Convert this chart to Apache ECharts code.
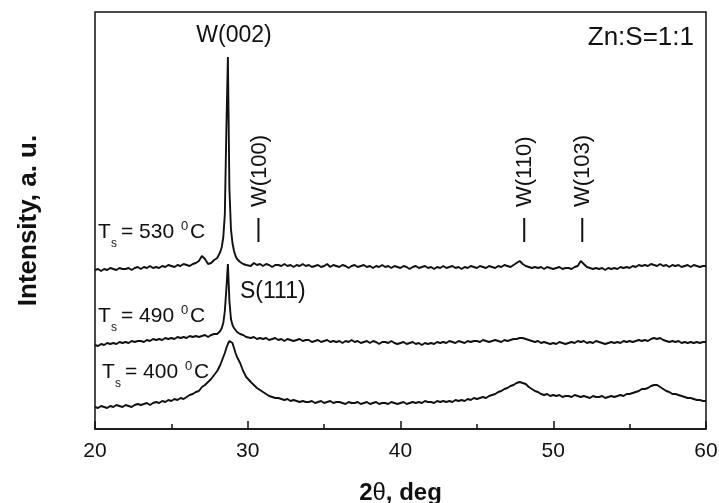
<!DOCTYPE html>
<html>
<head>
<meta charset="utf-8">
<script src="https://cdn.jsdelivr.net/npm/echarts@6/dist/echarts.min.js"></script>
<style>html,body{margin:0;padding:0;background:#fff}#c{width:719px;height:503px}</style>
</head>
<body>
<div id="c"></div>
<script>
// ---- 2θ sampling grid (deg): 0.2 deg steps, 0.1 deg steps through 28–30 deg ----
const twoTheta = [];
for (let d = 20; d < 60; d++) {
  const n = (d === 28 || d === 29) ? 10 : 5;
  for (let k = 0; k < n; k++) twoTheta.push(+(d + k / n).toFixed(2));
}
twoTheta.push(60);

// ---- Intensity (a.u., curves already vertically offset) ----
const ts530 = [
  159,160,158,160,159, 161,160,159,161,160, 160,161,159,161,162, 160,162,161,163,161,
  162,161,163,162,164, 163,162,164,163,165, 164,163,165,166,168, 173,170,165,166,169,
  171,173,177,182,192,215,300,372,240,200,
  186,178,173,170,168,167,166,165,166,164,
  165,163,166,164,165, 163,165,164,162,164, 164,163,165,163,164, 162,164,163,165,163,
  164,162,163,164,162, 163,165,162,164,163, 162,164,163,161,163, 164,162,163,164,162,
  163,161,163,162,164, 162,163,161,163,162, 161,163,162,160,162, 163,161,162,163,161,
  162,160,162,161,163, 161,162,163,161,162, 160,162,161,163,162, 161,163,162,161,163,
  162,161,163,162,164, 163,162,164,166,168, 165,163,162,161,162, 161,162,160,162,161,
  160,161,162,160,161, 161,160,162,163,168, 165,162,161,160,161, 160,161,159,161,160,
  161,160,162,161,162, 161,163,162,164,163, 164,163,165,164,163, 165,163,164,162,164,
  163,164,162,163,164, 162,164,163,162,163,
  163
];
const ts490 = [
  84,83,85,84,86, 85,86,85,87,86, 87,86,88,87,88, 88,87,89,88,90,
  89,90,89,91,90, 91,90,92,91,92, 91,93,92,93,92, 93,94,92,94,95,
  95,96,98,101,106,118,140,165,128,110,
  104,101,99,97,96,95,94,94,93,92,
  93,91,92,90,91, 90,91,89,90,91, 89,90,88,90,89, 88,89,90,88,89,
  89,87,88,89,87, 88,89,87,88,87, 88,86,88,87,89, 87,88,86,87,88,
  86,88,87,85,87, 87,86,88,86,85, 86,87,85,86,87, 85,86,84,86,85,
  86,85,87,86,87, 86,88,87,86,88, 87,86,88,87,88, 88,87,89,88,87,
  88,89,88,87,89, 88,89,90,90,91, 91,90,89,88,87, 88,86,87,86,85,
  86,85,87,86,85, 86,87,86,88,87, 88,86,87,86,88, 87,86,85,86,87,
  86,87,86,88,87, 88,87,88,89,88, 89,88,90,91,90, 91,89,88,87,88,
  87,88,86,87,86, 87,86,87,86,87,
  87
];
const ts400 = [
  22,21,23,22,21, 23,22,24,23,22, 24,23,22,24,25, 24,25,26,24,26,
  27,26,28,27,29, 28,30,29,31,30, 32,34,35,37,38, 42,44,47,50,54,
  58,61,64,68,72,76,81,85,88,89,
  86,81,76,72,69,66,62,58,55,52,
  50,47,44,41,39, 37,35,33,32,31, 31,30,29,30,28, 29,28,27,28,27,
  27,28,26,27,28, 26,27,28,26,27, 27,26,25,27,26, 26,27,25,26,27,
  25,26,27,25,26, 26,25,27,26,25, 26,27,25,26,27, 26,27,26,28,27,
  27,26,28,27,28, 27,28,27,29,28, 29,28,30,29,31, 30,31,32,31,33,
  34,35,37,38,40, 41,43,44,46,47, 46,45,42,40,38, 37,35,34,35,33,
  34,33,34,32,33, 33,32,34,33,32, 33,32,31,33,32, 32,33,31,32,33,
  32,33,34,33,35, 35,36,37,38,40, 40,41,43,44,44, 42,40,38,37,35,
  35,34,33,32,31, 31,30,29,29,28,
  28
];

// ---- reflection markers ----
const reflPos = [30.7, 48.1, 51.9];
const reflLabels = ['W(100)', 'W(110)', 'W(103)'];
const xTicks = [20, 30, 40, 50, 60];

const FONT = '"Liberation Sans", Arial, Helvetica, sans-serif';
const INK = '#111';

function pairs(ys) { return twoTheta.map((x, i) => [x, ys[i]]); }

function curve(name, ys) {
  return {
    name, type: 'line', data: pairs(ys), showSymbol: false, symbol: 'none',
    lineStyle: { color: INK, width: 1.9 }, animation: false, silent: true
  };
}

function tLabel(x0, yMid, temp) {
  const t = (text, dx, dy, size) => ({
    type: 'text', x: x0 + dx, y: yMid + dy,
    style: { text, font: size + 'px ' + FONT, fill: INK,
      textAlign: 'left', align: 'left', textVerticalAlign: 'middle', verticalAlign: 'middle' }
  });
  return { type: 'group', children: [
    t('T', 0, 0, 21), t('s', 13, 12, 12), t('= ' + temp, 23, 0, 21),
    t('0', 83, -6, 13), t('C', 92, 0, 21)
  ]};
}

const chart = echarts.init(document.getElementById('c'), null, { renderer: 'canvas' });
chart.setOption({
  animation: false,
  backgroundColor: '#fff',
  grid: { left: 95, right: 13, top: 12, bottom: 74, outerBoundsMode: 'none', containLabel: false,
    show: true, borderColor: INK, borderWidth: 1.5, backgroundColor: 'transparent' },
  xAxis: {
    type: 'value', min: 20, max: 60, interval: 10,
    axisLine: { show: true, lineStyle: { color: INK, width: 1.5 } },
    axisTick: { show: true, inside: true, length: 8, lineStyle: { color: INK, width: 1.5 } },
    minorTick: { show: true, splitNumber: 2, length: 5, lineStyle: { color: INK, width: 1.5 } },
    splitLine: { show: false }, minorSplitLine: { show: false },
    axisLabel: { fontSize: 21, color: INK, margin: 12, fontFamily: FONT,
      customValues: xTicks },
    name: '{a|2}{t|θ}{a|, deg}', nameLocation: 'middle', nameGap: 52,
    nameTextStyle: { rich: {
      a: { fontSize: 24, fontWeight: 'bold', color: INK, fontFamily: FONT },
      t: { fontSize: 24, color: INK, fontFamily: FONT } } }
  },
  yAxis: {
    type: 'value', min: 0, max: 417,
    axisLine: { show: false }, axisTick: { show: false }, axisLabel: { show: false },
    splitLine: { show: false },
    name: 'Intensity, a. u.', nameLocation: 'middle', nameRotate: 90, nameGap: 53,
    nameTextStyle: { fontSize: 26, fontWeight: 'bold', color: INK, fontFamily: FONT }
  },
  series: [
    curve('Ts = 530 °C', ts530),
    curve('Ts = 490 °C', ts490),
    curve('Ts = 400 °C', ts400),
    {
      type: 'custom', name: 'reflections', silent: true, animation: false,
      data: reflPos.map(x => [x]),
      renderItem: function (params, api) {
        const x = api.value(0);
        const p0 = api.coord([x, 187]);
        const p1 = api.coord([x, 211]);
        const pt = api.coord([x, 222]);
        return { type: 'group', children: [
          { type: 'line', shape: { x1: p0[0], y1: p0[1], x2: p1[0], y2: p1[1] },
            style: { stroke: INK, lineWidth: 2 } },
          { type: 'text', x: pt[0] + 1, y: pt[1], rotation: Math.PI / 2,
            style: { text: reflLabels[params.dataIndex], font: '22px ' + FONT, fill: INK,
              textAlign: 'left', align: 'left', textVerticalAlign: 'middle', verticalAlign: 'middle' } }
        ]};
      }
    }
  ],
  graphic: [
    { type: 'text', x: 234, y: 36, style: { text: 'W(002)', font: '23px ' + FONT, fill: INK,
      textAlign: 'center', align: 'center', textVerticalAlign: 'middle', verticalAlign: 'middle' } },
    { type: 'text', x: 694, y: 38, style: { text: 'Zn:S=1:1', font: '26px ' + FONT, fill: INK,
      textAlign: 'right', align: 'right', textVerticalAlign: 'middle', verticalAlign: 'middle' } },
    { type: 'text', x: 240, y: 292, style: { text: 'S(111)', font: '23px ' + FONT, fill: INK,
      textAlign: 'left', align: 'left', textVerticalAlign: 'middle', verticalAlign: 'middle' } },
    tLabel(98, 232, '530'),
    tLabel(98, 316, '490'),
    tLabel(102, 372, '400')
  ]
});
</script>
</body>
</html>
